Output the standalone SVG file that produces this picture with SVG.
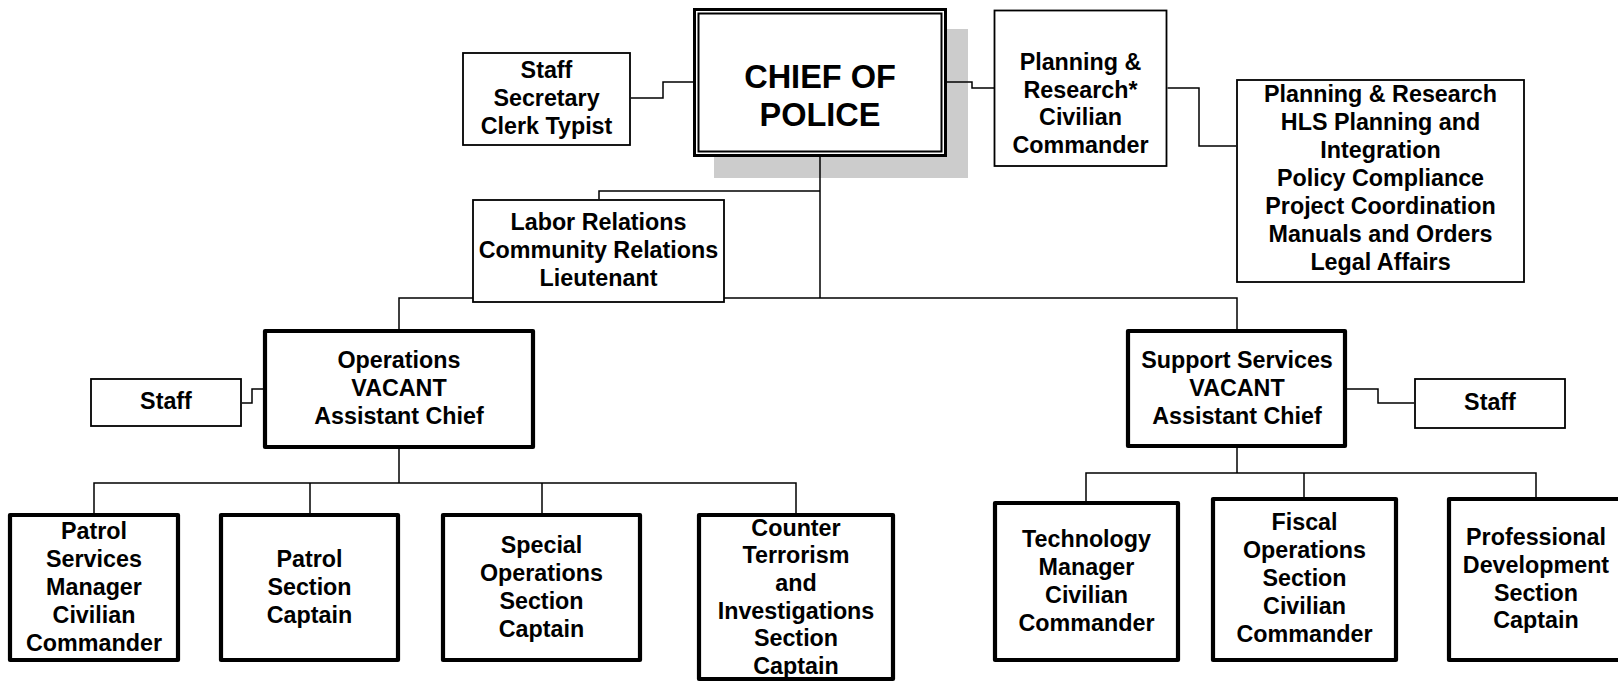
<svg xmlns="http://www.w3.org/2000/svg" width="1618" height="682" viewBox="0 0 1618 682">
<style>
  text { font-family: "Liberation Sans", Arial, sans-serif; font-weight: bold; font-size: 23.3px; fill: #000; text-anchor: middle; }
  .chief { font-size: 32.5px; }
  .thin { fill: #fff; stroke: #000; stroke-width: 1.8; }
  .thick { fill: #fff; stroke: #000; stroke-width: 4.2; stroke-linejoin: round; }
  .conn { fill: none; stroke: #000; stroke-width: 1.5; }
</style>
<rect width="1618" height="682" fill="#fff"/>
<rect id="chief-shadow" x="714" y="29" width="254" height="149" fill="#cccccc"/>
<g id="connectors" class="conn">
  <path d="M631 98 H663 V82 H693"/>
  <path d="M947 82 H972 V88 H994"/>
  <path d="M1167.5 88 H1199 V146 H1236"/>
  <path d="M820 157 V298"/>
  <path d="M820 191 H599 V199"/>
  <path d="M399 329 V298 H1237 V329"/>
  <path d="M242 403 H252 V389 H263"/>
  <path d="M399 449 V483"/>
  <path d="M94 513 V483 H796 V513"/>
  <path d="M310 483 V513"/>
  <path d="M542 483 V513"/>
  <path d="M1347 389 H1378 V403 H1414"/>
  <path d="M1237 448 V473"/>
  <path d="M1086 501 V473 H1536 V497"/>
  <path d="M1304 473 V497"/>
</g>
<g id="chief">
  <rect x="694.5" y="9.5" width="251" height="146" fill="#fff" stroke="#000" stroke-width="3"/>
  <rect x="698.5" y="13.5" width="243" height="138" fill="none" stroke="#000" stroke-width="2"/>
  <text class="chief" x="820" y="88">CHIEF OF</text>
  <text class="chief" x="820" y="126">POLICE</text>
</g>
<g id="staff-secretary">
  <rect class="thin" x="463" y="53" width="167" height="92"/>
  <text x="546.5" y="78">Staff</text>
  <text x="546.5" y="106">Secretary</text>
  <text x="546.5" y="134">Clerk Typist</text>
</g>
<g id="planning-commander">
  <rect class="thin" x="994.5" y="10.5" width="172" height="155.5"/>
  <text x="1080.5" y="70">Planning &amp;</text>
  <text x="1080.5" y="97.5">Research*</text>
  <text x="1080.5" y="125">Civilian</text>
  <text x="1080.5" y="153">Commander</text>
</g>
<g id="planning-units">
  <rect class="thin" x="1237" y="80" width="287" height="202"/>
  <text x="1380.5" y="102">Planning &amp; Research</text>
  <text x="1380.5" y="130">HLS Planning and</text>
  <text x="1380.5" y="158">Integration</text>
  <text x="1380.5" y="186">Policy Compliance</text>
  <text x="1380.5" y="214">Project Coordination</text>
  <text x="1380.5" y="242">Manuals and Orders</text>
  <text x="1380.5" y="270">Legal Affairs</text>
</g>
<g id="labor-relations">
  <rect class="thin" x="473" y="200" width="251" height="102"/>
  <text x="598.5" y="230">Labor Relations</text>
  <text x="598.5" y="258">Community Relations</text>
  <text x="598.5" y="286">Lieutenant</text>
</g>
<g id="operations">
  <rect class="thick" x="265" y="331" width="268" height="116"/>
  <text x="399" y="368">Operations</text>
  <text x="399" y="396">VACANT</text>
  <text x="399" y="424">Assistant Chief</text>
</g>
<g id="operations-staff">
  <rect class="thin" x="91" y="379" width="150" height="47"/>
  <text x="166" y="409">Staff</text>
</g>
<g id="support-services">
  <rect class="thick" x="1128" y="331" width="217" height="115"/>
  <text x="1237" y="368">Support Services</text>
  <text x="1237" y="396">VACANT</text>
  <text x="1237" y="424">Assistant Chief</text>
</g>
<g id="support-staff">
  <rect class="thin" x="1415" y="379" width="150" height="49"/>
  <text x="1490" y="410">Staff</text>
</g>
<g id="patrol-services">
  <rect class="thick" x="10" y="515" width="168" height="145"/>
  <text x="94" y="539">Patrol</text>
  <text x="94" y="567">Services</text>
  <text x="94" y="595">Manager</text>
  <text x="94" y="623">Civilian</text>
  <text x="94" y="651">Commander</text>
</g>
<g id="patrol-section">
  <rect class="thick" x="221" y="515" width="177" height="145"/>
  <text x="309.5" y="567">Patrol</text>
  <text x="309.5" y="595">Section</text>
  <text x="309.5" y="623">Captain</text>
</g>
<g id="special-operations">
  <rect class="thick" x="443" y="515" width="197" height="145"/>
  <text x="541.5" y="553">Special</text>
  <text x="541.5" y="581">Operations</text>
  <text x="541.5" y="609">Section</text>
  <text x="541.5" y="637">Captain</text>
</g>
<g id="counter-terrorism">
  <rect class="thick" x="699" y="515" width="194" height="164"/>
  <text x="796" y="535.5">Counter</text>
  <text x="796" y="563.2">Terrorism</text>
  <text x="796" y="590.9">and</text>
  <text x="796" y="618.6">Investigations</text>
  <text x="796" y="646.3">Section</text>
  <text x="796" y="674">Captain</text>
</g>
<g id="technology">
  <rect class="thick" x="995" y="503" width="183" height="157"/>
  <text x="1086.5" y="547">Technology</text>
  <text x="1086.5" y="575">Manager</text>
  <text x="1086.5" y="603">Civilian</text>
  <text x="1086.5" y="631">Commander</text>
</g>
<g id="fiscal-operations">
  <rect class="thick" x="1213" y="499" width="183" height="161"/>
  <text x="1304.5" y="530">Fiscal</text>
  <text x="1304.5" y="558">Operations</text>
  <text x="1304.5" y="586">Section</text>
  <text x="1304.5" y="614">Civilian</text>
  <text x="1304.5" y="642">Commander</text>
</g>
<g id="professional-development">
  <rect class="thick" x="1449" y="499" width="180" height="161"/>
  <text x="1536" y="545">Professional</text>
  <text x="1536" y="573">Development</text>
  <text x="1536" y="601">Section</text>
  <text x="1536" y="628">Captain</text>
</g>
</svg>
